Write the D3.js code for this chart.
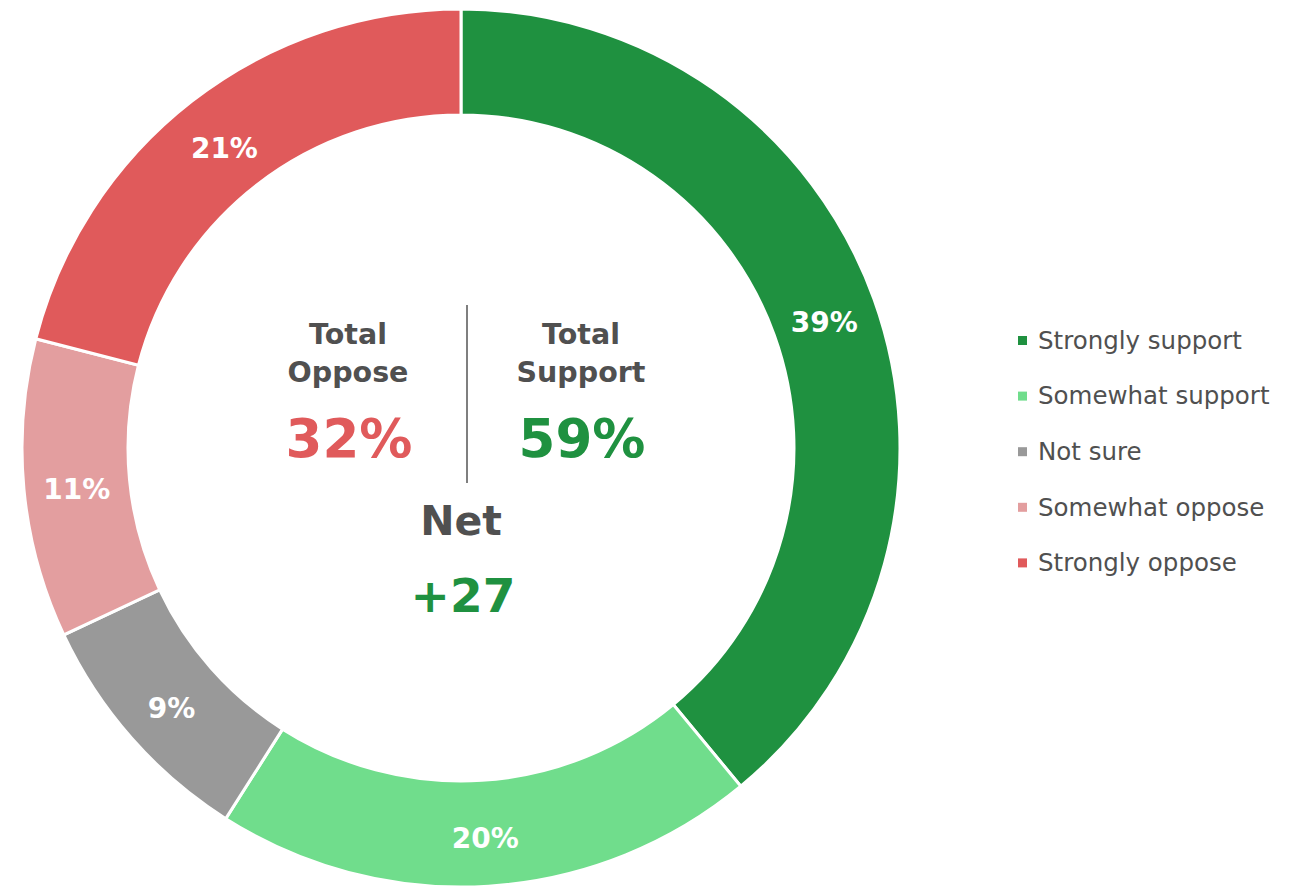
<!DOCTYPE html>
<html lang="en">
<head>
<meta charset="utf-8">
<title>Support vs oppose donut</title>
<script src="https://d3js.org/d3.v7.min.js"></script>
<style>
  body { margin: 0; background: #fff; }
  svg text { font-family: "DejaVu Sans", Verdana, sans-serif; }
</style>
</head>
<body>
<script>
// data
const categories = ["Strongly support", "Somewhat support", "Not sure", "Somewhat oppose", "Strongly oppose"];
const values = [39, 20, 9, 11, 21];
const palette = ["#1f9140", "#70dd8c", "#999999", "#e39e9f", "#e05a5b"];
const totalOppose = 32;
const totalSupport = 59;
const net = 27;

const width = 1296, height = 888;
const cx = 461, cy = 448;
const outerR = 439, innerR = 333;

const svg = d3.select("body").append("svg")
  .attr("width", width)
  .attr("height", height);

const rows = categories.map((c, i) => ({ name: c, value: values[i], color: palette[i] }));

const pie = d3.pie().value(d => d.value).sort(null);
const arc = d3.arc().innerRadius(innerR).outerRadius(outerR);

const g = svg.append("g").attr("transform", `translate(${cx},${cy})`);

g.selectAll("path.slice")
  .data(pie(rows))
  .enter().append("path")
  .attr("class", "slice")
  .attr("d", arc)
  .attr("fill", d => d.data.color)
  .attr("stroke", "#fff")
  .attr("stroke-width", 3);

g.selectAll("text.lbl")
  .data(pie(rows))
  .enter().append("text")
  .attr("class", "lbl")
  .attr("transform", d => `translate(${arc.centroid(d)})`)
  .attr("dy", "0.52em")
  .attr("text-anchor", "middle")
  .attr("fill", "#fff")
  .attr("font-weight", "bold")
  .attr("font-size", 28)
  .text(d => d.data.value + "%");

// centre block
const grey = "#505050";
const red = palette[4], green = palette[0];

function centreText(x, y, txt, size, col) {
  svg.append("text")
    .attr("x", x).attr("y", y)
    .attr("text-anchor", "middle")
    .attr("font-weight", "bold")
    .attr("font-size", size)
    .attr("fill", col)
    .text(txt);
}

centreText(348, 344, "Total", 28.5, grey);
centreText(348, 382, "Oppose", 28.5, grey);
centreText(349, 457, totalOppose + "%", 53, red);
centreText(581, 344, "Total", 28.5, grey);
centreText(581, 382, "Support", 28.5, grey);
centreText(582, 457, totalSupport + "%", 53, green);

svg.append("line")
  .attr("x1", 467).attr("x2", 467)
  .attr("y1", 305).attr("y2", 483)
  .attr("stroke", "#7f7f7f")
  .attr("stroke-width", 2);

centreText(461, 535, "Net", 41, grey);
centreText(463, 612, (net > 0 ? "+" : "") + net, 47, green);

// legend
const legend = svg.append("g").attr("transform", "translate(1018,340)");
const item = legend.selectAll("g.item")
  .data(rows)
  .enter().append("g")
  .attr("class", "item")
  .attr("transform", (d, i) => `translate(0,${i * 55.6})`);

item.append("rect")
  .attr("x", 0).attr("y", -4)
  .attr("width", 9).attr("height", 9)
  .attr("fill", d => d.color);

item.append("text")
  .attr("x", 20)
  .attr("dy", "0.36em")
  .attr("font-size", 24.5)
  .attr("fill", grey)
  .text(d => d.name);
</script>
</body>
</html>
